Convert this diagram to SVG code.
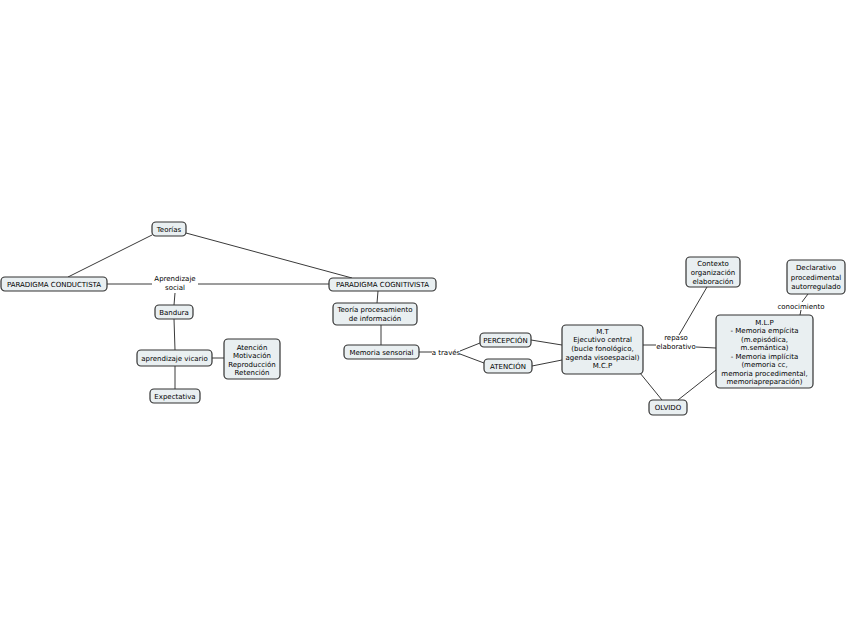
<svg xmlns="http://www.w3.org/2000/svg" width="848" height="638" viewBox="0 0 848 638">
<style>
.n rect{fill:#e9eff1;stroke:#333;stroke-width:1.2}
text{font-family:"DejaVu Sans","Liberation Sans",sans-serif;font-size:7px;fill:#000;text-anchor:middle}
.c line{stroke:#3a3a3a;stroke-width:1;fill:none}
</style>
<rect width="848" height="638" fill="#fff"/>
<g class="c">
<line x1="152" y1="235" x2="68" y2="277"/>
<line x1="186" y1="233" x2="352" y2="278"/>
<line x1="107" y1="284" x2="152" y2="284"/>
<line x1="198" y1="284" x2="329" y2="284"/>
<line x1="175" y1="293" x2="174" y2="305"/>
<line x1="174" y1="319" x2="175" y2="350"/>
<line x1="175" y1="366" x2="175" y2="389"/>
<line x1="212" y1="358" x2="224" y2="358"/>
<line x1="378" y1="291" x2="377" y2="303"/>
<line x1="381" y1="325" x2="381" y2="345"/>
<line x1="419" y1="352" x2="432" y2="352"/>
<line x1="460" y1="351" x2="480" y2="343"/>
<line x1="460" y1="354" x2="484" y2="363"/>
<line x1="531" y1="340" x2="562" y2="345"/>
<line x1="532" y1="366" x2="562" y2="360"/>
<line x1="643" y1="345" x2="656" y2="345"/>
<line x1="696" y1="347" x2="716" y2="348"/>
<line x1="707" y1="287" x2="679" y2="335"/>
<line x1="640" y1="373" x2="662" y2="400"/>
<line x1="678" y1="400" x2="716" y2="370"/>
<line x1="808" y1="294" x2="802" y2="302"/>
<line x1="801" y1="310" x2="800" y2="315"/>
</g>
<g id="teorias" class="n"><rect x="152" y="222" width="34" height="14" rx="4"/><text x="169" y="231.5">Teorías</text></g>
<g id="conductista" class="n"><rect x="1" y="277" width="106" height="14" rx="4"/><text x="54" y="286.5">PARADIGMA CONDUCTISTA</text></g>
<g id="aprendizaje-social"><text x="175" y="280.5">Aprendizaje</text><text x="175" y="289.5">social</text></g>
<g id="bandura" class="n"><rect x="155" y="305" width="38" height="14" rx="4"/><text x="174" y="314.5">Bandura</text></g>
<g id="vicario" class="n"><rect x="137" y="350" width="75" height="16" rx="4"/><text x="174.5" y="360.5">aprendizaje vicario</text></g>
<g id="atencion-list" class="n"><rect x="224" y="339" width="56" height="40" rx="4"/><text x="252" y="349.5">Atención</text><text x="252" y="358">Motivación</text><text x="252" y="366.5">Reproducción</text><text x="252" y="375">Retención</text></g>
<g id="expectativa" class="n"><rect x="150" y="389" width="50" height="14" rx="4"/><text x="175" y="398.5">Expectativa</text></g>
<g id="cognitivista" class="n"><rect x="329" y="278" width="107" height="13" rx="4"/><text x="382.5" y="287">PARADIGMA COGNITIVISTA</text></g>
<g id="teoria-proc" class="n"><rect x="333" y="303" width="84" height="22" rx="4"/><text x="375" y="312">Teoría procesamiento</text><text x="375" y="321">de información</text></g>
<g id="memoria-sensorial" class="n"><rect x="344" y="345" width="75" height="14" rx="4"/><text x="381.5" y="354.5">Memoria sensorial</text></g>
<g id="a-traves"><text x="446" y="355">a través</text></g>
<g id="percepcion" class="n"><rect x="480" y="333" width="51" height="14" rx="4"/><text x="505.5" y="342.5">PERCEPCIÓN</text></g>
<g id="atencion" class="n"><rect x="484" y="359" width="48" height="14" rx="4"/><text x="508" y="368.5">ATENCIÓN</text></g>
<g id="mt" class="n"><rect x="562" y="325" width="81" height="49" rx="4"/><text x="602.5" y="333.5">M.T</text><text x="602.5" y="342.2">Ejecutivo central</text><text x="602.5" y="350.9">(bucle fonológico,</text><text x="602.5" y="359.6">agenda visoespacial)</text><text x="602.5" y="368.3">M.C.P</text></g>
<g id="repaso"><text x="676" y="340">repaso</text><text x="676" y="349">elaborativo</text></g>
<g id="contexto" class="n"><rect x="686" y="257" width="54" height="30" rx="4"/><text x="713" y="266">Contexto</text><text x="713" y="275">organización</text><text x="713" y="284">elaboración</text></g>
<g id="declarativo" class="n"><rect x="787" y="260" width="58" height="34" rx="4"/><text x="816" y="270">Declarativo</text><text x="816" y="279.5">procedimental</text><text x="816" y="289">autorregulado</text></g>
<g id="conocimiento"><text x="801" y="309">conocimiento</text></g>
<g id="mlp" class="n"><rect x="716" y="315" width="97" height="73" rx="4"/><text x="764.5" y="324.5">M.L.P</text><text x="764.5" y="333">- Memoria empícita</text><text x="764.5" y="341.5">(m.episódica,</text><text x="764.5" y="350">m.semántica)</text><text x="764.5" y="358.5">- Memoria implícita</text><text x="764.5" y="367">(memoria cc,</text><text x="764.5" y="375.5">memoria procedimental,</text><text x="764.5" y="384">memoriapreparación)</text></g>
<g id="olvido" class="n"><rect x="649" y="400" width="38" height="15" rx="4"/><text x="668" y="410">OLVIDO</text></g>
</svg>
